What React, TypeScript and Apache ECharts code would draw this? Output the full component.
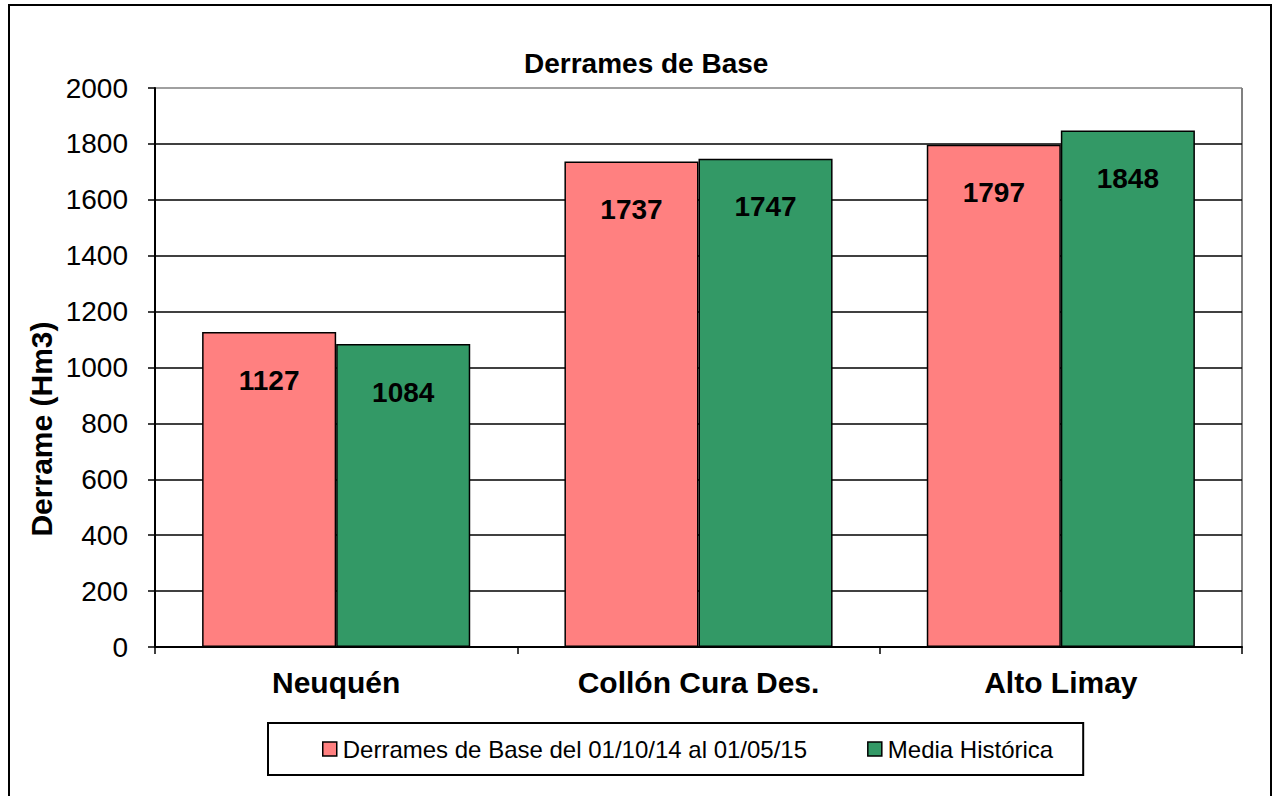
import React, { useEffect, useRef } from "react";
import * as echarts from "echarts";

const categories = ["Neuquén", "Collón Cura Des.", "Alto Limay"];
const derramesBase = [1127, 1737, 1797];
const mediaHistorica = [1084, 1747, 1848];
const seriesNames = ["Derrames de Base del 01/10/14 al 01/05/15", "Media Histórica"];
const yTicks = [0, 200, 400, 600, 800, 1000, 1200, 1400, 1600, 1800, 2000];
const chartTitle = "Derrames de Base";
const yAxisTitle = "Derrame (Hm3)";

const FONT = "'Liberation Sans', Arial, Helvetica, sans-serif";

export default function App() {
  const ref = useRef<HTMLDivElement>(null);
  useEffect(() => {
    if (!ref.current) return;
    const chart = echarts.init(ref.current, null, { renderer: "svg" });
    const splitColors = yTicks.map((v, i) => (i === yTicks.length - 1 ? "#808080" : "#000000"));
    const labelCfg = {
      show: true,
      position: "insideTop",
      distance: 34,
      fontSize: 28,
      fontWeight: "bold",
      fontFamily: FONT,
      color: "#000",
    };
    chart.setOption({
      animation: false,
      backgroundColor: "#ffffff",
      title: {
        text: chartTitle,
        left: 519,
        top: 44,
        textStyle: { fontSize: 28, fontWeight: "bold", fontFamily: FONT, color: "#000" },
      },
      legend: {
        data: seriesNames,
        left: 268,
        top: 723,
        orient: "horizontal",
        icon: "rect",
        itemWidth: 14,
        itemHeight: 14,
        itemGap: 60,
        padding: [14, 30, 14, 54],
        borderColor: "#000",
        borderWidth: 2,
        textStyle: { fontSize: 24, fontFamily: FONT, color: "#000", padding: [0, 0, 0, 1] },
        itemStyle: { borderColor: "#000", borderWidth: 1.5 },
      },
      grid: { left: 155, top: 88, right: 34, bottom: 149, containLabel: false },
      xAxis: {
        type: "category",
        data: categories,
        axisLine: { show: true, lineStyle: { color: "#000", width: 2 } },
        axisTick: { show: true, length: 7, lineStyle: { color: "#000", width: 1.5 } },
        axisLabel: { fontSize: 30, fontWeight: "bold", fontFamily: FONT, color: "#000", margin: 20 },
        splitLine: { show: false },
      },
      yAxis: {
        type: "value",
        min: 0,
        max: 2000,
        interval: 200,
        axisLine: { show: true, lineStyle: { color: "#000", width: 2 } },
        axisTick: { show: true, length: 7, lineStyle: { color: "#000", width: 1.5 } },
        axisLabel: {
          fontSize: 28,
          fontFamily: FONT,
          color: "#000",
          margin: 27,
          formatter: (v: number) => String(v),
        },
        splitLine: { show: true, lineStyle: { color: splitColors, width: 1.5 } },
      },
      graphic: [
        {
          type: "rect",
          shape: { x: 9, y: 5, width: 1262, height: 820 },
          style: { fill: "none", stroke: "#000", lineWidth: 2 },
          silent: true,
        },
        {
          type: "line",
          shape: { x1: 1242, y1: 88, x2: 1242, y2: 647 },
          style: { stroke: "#808080", lineWidth: 2 },
          silent: true,
        },
        {
          type: "text",
          x: 41,
          y: 429,
          rotation: Math.PI / 2,
          style: {
            text: yAxisTitle,
            fontSize: 30,
            fontWeight: "bold",
            fontFamily: FONT,
            fill: "#000",
            align: "center",
            verticalAlign: "middle",
          },
        },
      ],
      series: [
        {
          name: seriesNames[0],
          type: "bar",
          data: derramesBase,
          barGap: "0%",
          barCategoryGap: "26%",
          itemStyle: { color: "#FF8080", borderColor: "#000", borderWidth: 1.5 },
          label: labelCfg,
        },
        {
          name: seriesNames[1],
          type: "bar",
          data: mediaHistorica,
          barGap: "0%",
          barCategoryGap: "26%",
          itemStyle: { color: "#339966", borderColor: "#000", borderWidth: 1.5 },
          label: labelCfg,
        },
      ],
    });
    return () => chart.dispose();
  }, []);
  return (
    <div
      ref={ref}
      style={{ position: "fixed", left: 0, top: 0, width: 1276, height: 796, background: "#fff" }}
    />
  );
}
